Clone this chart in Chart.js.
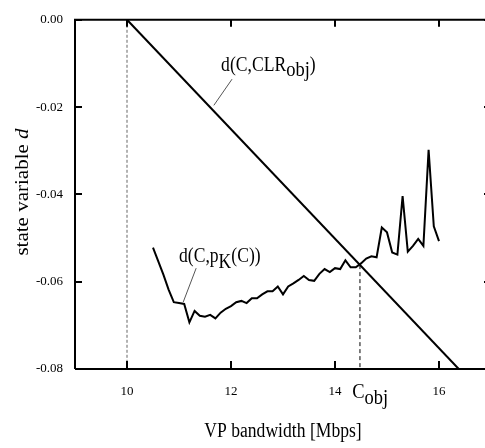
<!DOCTYPE html>
<html>
<head>
<meta charset="utf-8">
<script src="https://cdn.jsdelivr.net/npm/chart.js@4/dist/chart.umd.min.js"></script>
<style>
html, body { margin: 0; padding: 0; background: #fff; overflow: hidden; }
#wrap { width: 495px; height: 448px; }
</style>
</head>
<body>
<div id="wrap"><canvas id="chart" width="495" height="448"></canvas></div>
<script>
// VP bandwidth [Mbps] of the measured curve
var bandwidth = [10.5, 10.6, 10.7, 10.8, 10.9, 11.0, 11.1, 11.2, 11.3, 11.4,
  11.5, 11.6, 11.7, 11.8, 11.9, 12.0, 12.1, 12.2, 12.3, 12.4,
  12.5, 12.6, 12.7, 12.8, 12.9, 13.0, 13.1, 13.2, 13.3, 13.4,
  13.5, 13.6, 13.7, 13.8, 13.9, 14.0, 14.1, 14.2, 14.3, 14.4,
  14.5, 14.6, 14.7, 14.8, 14.9, 15.0, 15.1, 15.2, 15.3, 15.4,
  15.5, 15.6, 15.7, 15.8, 15.9, 16.0];
// d(C, pK(C))
var dPk = [-0.0522, -0.0553, -0.0584, -0.0618, -0.0647, -0.0649, -0.0651, -0.0693, -0.0667, -0.0678,
  -0.0680, -0.0676, -0.0684, -0.0671, -0.0662, -0.0656, -0.0647, -0.0644, -0.0649, -0.0638,
  -0.0638, -0.0629, -0.0622, -0.0622, -0.0611, -0.0629, -0.0611, -0.0604, -0.0596, -0.0587,
  -0.0596, -0.0598, -0.0582, -0.0571, -0.0578, -0.0569, -0.0571, -0.0551, -0.0567, -0.0567,
  -0.0558, -0.0547, -0.0542, -0.0544, -0.0476, -0.0487, -0.0533, -0.0538, -0.0404, -0.0531,
  -0.0518, -0.0502, -0.0518, -0.0298, -0.0473, -0.0507];
// d(C, CLR_obj) straight line
var clrX = [10, 16.38];
var clrY = [0, -0.08];
// C_obj marker
var cObj = 14.48;
var cObjD = -0.0562;

var xTicks = [10, 12, 14, 16];
var yTicks = [0, -0.02, -0.04, -0.06, -0.08];

var SERIF = '"Liberation Serif", "Times New Roman", serif';
var SX = 0.88;

function pts(xs, ys) {
  return xs.map(function (x, i) { return {x: x, y: ys[i]}; });
}

function runs(ctx, x, y, parts, align) {
  ctx.save();
  var w = 0;
  parts.forEach(function (p) {
    ctx.font = (p.italic ? 'italic ' : '') + p.size + 'px ' + SERIF;
    w += ctx.measureText(p.t).width;
  });
  ctx.translate(x, y);
  ctx.scale(SX, 1);
  var cx = align === 'center' ? -w / 2 : 0;
  ctx.fillStyle = '#000';
  ctx.textBaseline = 'alphabetic';
  ctx.textAlign = 'left';
  parts.forEach(function (p) {
    ctx.font = (p.italic ? 'italic ' : '') + p.size + 'px ' + SERIF;
    ctx.fillText(p.t, cx, p.dy || 0);
    cx += ctx.measureText(p.t).width;
  });
  ctx.restore();
}

var decor = {
  id: 'decor',
  afterDraw: function (chart) {
    var ctx = chart.ctx, a = chart.chartArea;
    var xs = chart.scales.x, ys = chart.scales.y;
    ctx.save();
    ctx.strokeStyle = '#000';
    ctx.lineWidth = 2;
    ctx.beginPath();
    ctx.moveTo(a.left, a.bottom); ctx.lineTo(a.left, a.top); ctx.lineTo(a.right, a.top);
    ctx.lineTo(a.right, a.bottom); ctx.lineTo(a.left, a.bottom);
    ctx.stroke();
    xTicks.forEach(function (v) {
      var px = Math.round(xs.getPixelForValue(v));
      ctx.beginPath();
      ctx.moveTo(px, a.bottom); ctx.lineTo(px, a.bottom - 8);
      ctx.moveTo(px, a.top); ctx.lineTo(px, a.top + 7);
      ctx.stroke();
    });
    yTicks.forEach(function (v) {
      var py = Math.round(ys.getPixelForValue(v));
      ctx.beginPath();
      ctx.moveTo(a.left, py); ctx.lineTo(a.left + 7, py);
      ctx.moveTo(a.right, py); ctx.lineTo(a.right - 7, py);
      ctx.stroke();
    });
    // leader lines
    ctx.strokeStyle = '#555';
    ctx.lineWidth = 1;
    ctx.beginPath();
    ctx.moveTo(xs.getPixelForValue(12.02), ys.getPixelForValue(-0.0136));
    ctx.lineTo(xs.getPixelForValue(11.67), ys.getPixelForValue(-0.0196));
    ctx.moveTo(xs.getPixelForValue(11.33), ys.getPixelForValue(-0.0569));
    ctx.lineTo(xs.getPixelForValue(11.08), ys.getPixelForValue(-0.0647));
    ctx.stroke();
    ctx.restore();

    // annotations
    runs(ctx, xs.getPixelForValue(11.81), ys.getPixelForValue(-0.0118), [
      {t: 'd(C,CLR', size: 20}, {t: 'obj', size: 21, dy: 5}, {t: ')', size: 20}]);
    runs(ctx, xs.getPixelForValue(11.0), ys.getPixelForValue(-0.0556), [
      {t: 'd(C,p', size: 20}, {t: 'K', size: 20, dy: 6}, {t: '(C))', size: 20}]);
    runs(ctx, xs.getPixelForValue(14.33), ys.getPixelForValue(-0.0867), [
      {t: 'C', size: 21}, {t: 'obj', size: 21, dy: 6}]);

    // axis titles
    runs(ctx, (a.left + a.right) / 2, 437, [{t: 'VP bandwidth [Mbps]', size: 20}], 'center');
    ctx.save();
    ctx.translate(28, 192);
    ctx.rotate(-Math.PI / 2);
    ctx.scale(1, SX);
    ctx.fillStyle = '#000';
    ctx.textBaseline = 'alphabetic';
    ctx.font = '21px ' + SERIF;
    var t1 = 'state variable ';
    ctx.font = 'italic 21px ' + SERIF;
    var wd = ctx.measureText('d').width;
    ctx.font = '21px ' + SERIF;
    var w1 = ctx.measureText(t1).width;
    var start = -(w1 + wd) / 2;
    ctx.fillText(t1, start, 0);
    ctx.font = 'italic 21px ' + SERIF;
    ctx.fillText('d', start + w1, 0);
    ctx.restore();
  }
};

var chart = new Chart('chart', {
  type: 'line',
  data: {
    datasets: [
      {
        data: pts([10, 10], [0, -0.08]),
        borderColor: '#666', borderWidth: 1, borderDash: [3, 2],
        pointRadius: 0
      },
      {
        data: pts([cObj, cObj], [cObjD, -0.08]),
        borderColor: '#000', borderWidth: 1, borderDash: [4, 3],
        pointRadius: 0
      },
      {
        label: 'd(C,CLR_obj)',
        data: pts(clrX, clrY),
        borderColor: '#000', borderWidth: 2,
        pointRadius: 0
      },
      {
        label: 'd(C,pK(C))',
        data: pts(bandwidth, dPk),
        borderColor: '#000', borderWidth: 2,
        pointRadius: 0, tension: 0
      }
    ]
  },
  options: {
    responsive: false,
    animation: false,
    devicePixelRatio: 1,
    layout: { padding: { top: 9, right: 4, left: 0, bottom: 0 } },
    plugins: { legend: { display: false }, tooltip: { enabled: false } },
    scales: {
      x: {
        type: 'linear', min: 9, max: 17,
        grid: { display: false, drawTicks: false },
        border: { display: false },
        afterBuildTicks: function (s) { s.ticks = xTicks.map(function (v) { return {value: v}; }); },
        afterFit: function (s) { s.height = 79; },
        ticks: {
          color: '#000', padding: 15, maxRotation: 0,
          font: { family: SERIF, size: 13 },
          callback: function (v) { return String(v); }
        }
      },
      y: {
        type: 'linear', min: -0.08, max: 0,
        grid: { display: false, drawTicks: false },
        border: { display: false },
        afterBuildTicks: function (s) { s.ticks = yTicks.map(function (v) { return {value: v}; }); },
        afterFit: function (s) { s.width = 75; },
        ticks: {
          color: '#000', padding: 12,
          font: { family: SERIF, size: 13 },
          callback: function (v) { return Number(v).toFixed(2); }
        }
      }
    }
  },
  plugins: [decor]
});
</script>
</body>
</html>
